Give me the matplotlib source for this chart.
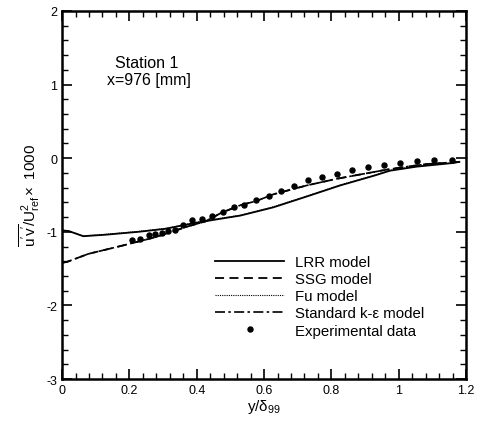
import matplotlib
matplotlib.use("Agg")
import matplotlib.pyplot as plt
from matplotlib.ticker import MultipleLocator

plt.rcParams['font.family'] = ['Liberation Sans', 'DejaVu Sans']
plt.rcParams['mathtext.fontset'] = 'custom'
plt.rcParams['mathtext.rm'] = 'Liberation Sans'
plt.rcParams['mathtext.it'] = 'Liberation Sans'

# Experimental data
exp_x = [0.209, 0.232, 0.259, 0.276, 0.296, 0.316, 0.334, 0.360, 0.387, 0.417,
         0.446, 0.479, 0.511, 0.541, 0.576, 0.615, 0.650, 0.689, 0.729, 0.772,
         0.816, 0.860, 0.908, 0.956, 1.004, 1.053, 1.105, 1.157]
exp_y = [-1.107, -1.098, -1.043, -1.03, -1.016, -0.985, -0.971, -0.908, -0.840, -0.826,
         -0.781, -0.727, -0.667, -0.636, -0.568, -0.510, -0.446, -0.383, -0.296, -0.260,
         -0.215, -0.156, -0.124, -0.088, -0.061, -0.042, -0.024, -0.028]

# LRR model
lrr_x = [0, 0.02, 0.063, 0.128, 0.227, 0.306, 0.395, 0.474, 0.529, 0.573, 0.628,
         0.727, 0.826, 0.925, 0.974, 1.053, 1.162, 1.18]
lrr_y = [-0.98, -0.99, -1.06, -1.04, -1.0, -0.96, -0.88, -0.82, -0.78, -0.73, -0.667,
         -0.52, -0.37, -0.24, -0.17, -0.115, -0.065, -0.05]

# Fu model
fu_x = [0, 0.02, 0.063, 0.128, 0.227, 0.306, 0.395, 0.474, 0.529, 0.573, 0.628,
        0.727, 0.826, 0.925, 0.974, 1.053, 1.162, 1.18]
fu_y = [-0.98, -0.99, -1.055, -1.035, -0.995, -0.955, -0.875, -0.815, -0.775, -0.725, -0.66,
        -0.515, -0.365, -0.235, -0.165, -0.11, -0.062, -0.05]

# SSG model
ssg_x = [0, 0.014, 0.078, 0.177, 0.276, 0.375, 0.425, 0.474, 0.529, 0.578, 0.628,
         0.727, 0.816, 0.875, 0.964, 1.024, 1.083, 1.162, 1.18]
ssg_y = [-1.42, -1.41, -1.30, -1.19, -1.075, -0.925, -0.86, -0.74, -0.64, -0.58, -0.49,
         -0.37, -0.28, -0.23, -0.156, -0.115, -0.08, -0.056, -0.05]

# Standard k-epsilon model
ke_x = [0, 0.014, 0.078, 0.177, 0.276, 0.375, 0.425, 0.474, 0.529, 0.578, 0.628,
        0.727, 0.816, 0.875, 0.964, 1.024, 1.083, 1.162, 1.18]
ke_y = [-1.42, -1.41, -1.30, -1.19, -1.075, -0.925, -0.86, -0.74, -0.64, -0.58, -0.49,
        -0.37, -0.28, -0.23, -0.156, -0.115, -0.08, -0.056, -0.05]

fig = plt.figure(figsize=(4.81, 4.27), dpi=100)
ax = fig.add_axes([0.129, 0.110, 0.840, 0.862])

ax.plot(lrr_x, lrr_y, color='black', lw=1.3, ls='-', label='LRR model')
ax.plot(ssg_x, ssg_y, color='black', lw=1.3, ls=(0, (5, 3)), label='SSG model')
ax.plot(fu_x, fu_y, color='black', lw=0.8, ls=(0, (1, 1)), label='Fu model')
ax.plot(ke_x, ke_y, color='black', lw=1.2, ls=(0, (6, 2, 1.5, 2)), label='Standard k-\u03b5 model')
ax.plot(exp_x, exp_y, 'o', color='black', ms=3.6, ls='none', label='Experimental data')

ax.set_xlim(0, 1.2)
ax.set_ylim(-3, 2)
ax.xaxis.set_minor_locator(MultipleLocator(0.04))
ax.yaxis.set_minor_locator(MultipleLocator(0.2))
ax.set_xticks([0, 0.2, 0.4, 0.6, 0.8, 1.0, 1.2])
ax.set_xticklabels(['0', '0.2', '0.4', '0.6', '0.8', '1', '1.2'])
ax.set_yticks([-3, -2, -1, 0, 1, 2])
ax.set_yticklabels(['-3', '-2', '-1', '0', '1', '2'])
ax.tick_params(which='both', direction='in', top=True, right=True, labelsize=9)
ax.tick_params(which='major', length=7, width=1.2)
ax.tick_params(which='minor', length=4, width=1.0)
for s in ax.spines.values():
    s.set_linewidth(1.8)

ax.set_xlabel(r"y/$\delta_{99}$", fontsize=11, labelpad=1)
ax.set_ylabel(r"$\overline{\mathrm{u'v'}}/\mathrm{U}^2_{\mathrm{ref}}\times$ 1000", fontsize=11, labelpad=3)

ax.text(0.131, 0.861, "Station 1", transform=ax.transAxes, fontsize=11.5, va='center')
ax.text(0.111, 0.815, "x=976 [mm]", transform=ax.transAxes, fontsize=11.5, va='center')

ax.legend(loc='upper left', bbox_to_anchor=(0.379, 0.337), frameon=False, fontsize=10.8,
          handlelength=4.6, labelspacing=0.21, numpoints=1, handletextpad=0.7,
          borderpad=0, borderaxespad=0)

fig.savefig("out.png", dpi=100)
